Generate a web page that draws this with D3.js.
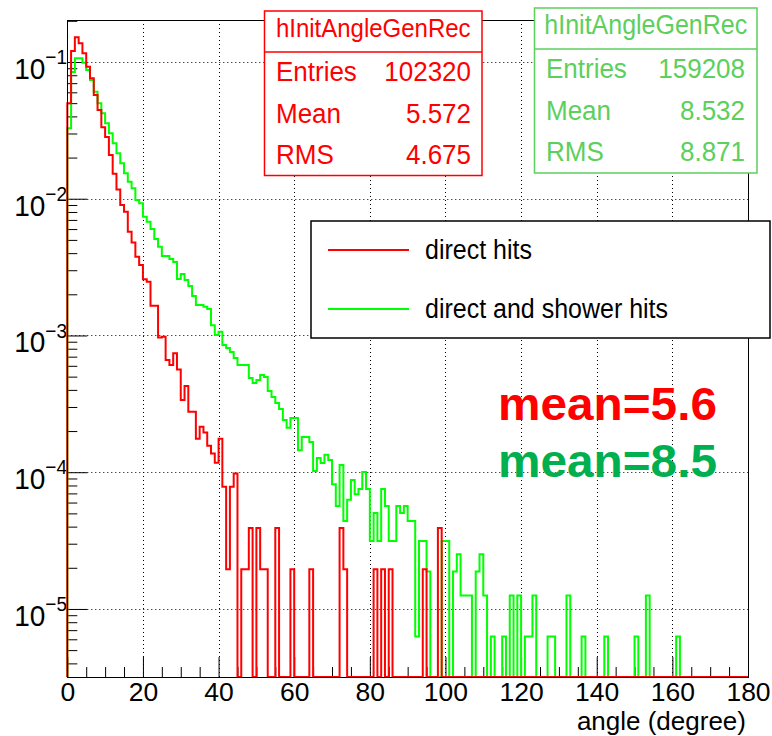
<!DOCTYPE html>
<html><head><meta charset="utf-8">
<script src="https://cdn.jsdelivr.net/npm/d3@7"></script>
<style>
body{margin:0;background:#fff;}
svg{display:block;font-family:"Liberation Sans",Arial,Helvetica,sans-serif;}
</style>
</head><body>
<svg id="c" width="772" height="736"></svg>
<script>
// ---------------- data ----------------
const xDomain = [0, 180];          // angle range, 1-degree bins
const yDomain = [3.18e-6, 0.2028]; // log axis range
const xMajorTicks = [0, 20, 40, 60, 80, 100, 120, 140, 160, 180];
const yDecadeTicks = [1e-5, 1e-4, 1e-3, 1e-2, 1e-1];
const yDecadeExp = ["\u22125", "\u22124", "\u22123", "\u22122", "\u22121"];

// direct hits (red), normalised per 1-degree bin, bins 0..179
const redValues = [
0.0499,0.1203,0.1516,0.1370,0.1158,0.0924,0.0760,0.0574,0.0446,0.0333,
0.0283,0.0209,0.0152,0.01168,0.0090,0.00804,0.00574,0.00479,0.00377,0.00328,
0.00258,0.00247,0.00165,0.00165,0.000967,0.00098,0.000662,0.000609,0.000741,0.000564,
0.000337,0.000427,0.000277,0.000277,1.76e-4,2.15e-4,1.955e-4,1.564e-4,1.369e-4,1.173e-4,
1.76e-4,7.82e-5,1.955e-5,7.82e-5,9.78e-5,0,1.955e-5,1.955e-5,3.91e-5,0,
3.91e-5,1.955e-5,1.955e-5,0,0,3.91e-5,0,0,0,1.955e-5,
0,0,0,0,1.955e-5,0,0,0,0,0,
0,0,3.91e-5,1.955e-5,0,0,0,0,0,0,
0,1.955e-5,0,1.955e-5,0,1.955e-5,0,0,0,0,
0,0,0,0,1.955e-5,0,0,0,3.91e-5,0,
0,0,0,0,0,0,0,0,0,0, 0,0,0,0,0,0,0,0,0,0,
0,0,0,0,0,0,0,0,0,0, 0,0,0,0,0,0,0,0,0,0,
0,0,0,0,0,0,0,0,0,0, 0,0,0,0,0,0,0,0,0,0,
0,0,0,0,0,0,0,0,0,0, 0,0,0,0,0,0,0,0,0,0
];

// direct and shower hits (green), bins 0..179
const greenValues = [
0.03274,0.0845,0.1064,0.1064,0.0988,0.0874,0.0738,0.0606,0.0499,0.0422,
0.0356,0.0301,0.02544,0.0215,0.01816,0.01535,0.01333,0.01192,0.0098,0.00926,
0.00739,0.0068,0.00601,0.00508,0.00446,0.00381,0.00381,0.00363,0.00345,0.00259,
0.00282,0.00255,0.0023,0.00194,0.00167,0.00167,0.00162,0.00156,0.00119,0.00101,
0.001066,0.000852,0.00081,0.000757,0.000685,0.000609,0.000609,0.000609,0.000489,0.000449,
0.000473,0.000514,0.000497,0.000393,0.000355,0.000321,0.00029,0.000241,0.000211,0.000249,
0.000249,0.000145,0.000181,0.000181,0.000166,0.000102,0.000127,0.000117,0.000134,0.000123,
8.17e-5,5.65e-5,1.131e-4,4.40e-5,6.28e-5,8.79e-5,6.91e-5,7.54e-5,1.005e-4,7.54e-5,
3.14e-5,5.03e-5,3.14e-5,7.54e-5,5.65e-5,3.14e-5,3.14e-5,5.65e-5,5.03e-5,5.65e-5,
4.40e-5,4.40e-5,6.28e-6,3.14e-5,3.14e-5,1.88e-5,0,0,0,3.14e-5,
3.14e-5,0,1.88e-5,2.51e-5,1.256e-5,1.256e-5,1.256e-5,0,1.88e-5,2.51e-5,
1.256e-5,0,6.28e-6,0,0,6.28e-6,0,1.256e-5,0,1.256e-5,
0,6.28e-6,6.28e-6,1.256e-5,0,0,0,6.28e-6,6.28e-6,0,
0,0,1.256e-5,0,0,0,6.28e-6,0,0,0,
0,0,6.28e-6,0,0,0,0,0,0,0,
6.28e-6,0,0,1.256e-5,0,0,0,0,0,0,
0,6.28e-6,0,0,0,0,0,0,0,0,
0,0,0,0,0,0,0,0,0,0
];

const statTitle = "hInitAngleGenRec";
const statLabels = ["Entries", "Mean", "RMS"];
const statRedValues = ["102320", "5.572", "4.675"];
const statGreenValues = ["159208", "8.532", "8.871"];
const legendLabels = ["direct hits", "direct and shower hits"];
const meanLabels = ["mean=5.6", "mean=8.5"];
const xTitle = "angle (degree)";

// ---------------- drawing ----------------
const RED = "#ff0000", GREEN = "#00ff00", STATGREEN = "#5ccf5c", MEANGREEN = "#00b050";
const L = 67.3, R = 748, T = 20, B = 677;
const VS = 1.07; // vertical stretch of glyphs, as in the reference
const svg = d3.select("#c");
svg.append("rect").attr("width",772).attr("height",736).attr("fill","#fff");

function addText(parent, px, py, str, size, anchor, color, weight, vs) {
  return parent.append("text")
    .attr("transform", `translate(${px},${py}) scale(1,${vs || VS})`)
    .attr("font-size", size).attr("text-anchor", anchor || "start")
    .attr("fill", color || "#000").attr("font-weight", weight || "normal")
    .text(str);
}

const x = d3.scaleLinear().domain(xDomain).range([L, R]);
const y = d3.scaleLog().domain(yDomain).range([B, T]);

// grid
const grid = svg.append("g").attr("stroke","#000").attr("stroke-width",1)
  .attr("stroke-dasharray","1,3").attr("fill","none");
xMajorTicks.filter(v => v > xDomain[0] && v < xDomain[1]).forEach(v => {
  const px = Math.round(x(v)) + 0.5;
  grid.append("line").attr("x1",px).attr("x2",px).attr("y1",T).attr("y2",B);
});
yDecadeTicks.forEach(v => {
  const py = Math.round(y(v)) + 0.5;
  grid.append("line").attr("x1",L).attr("x2",R).attr("y1",py).attr("y2",py);
});

// axes ticks (inside the frame, ROOT style)
const xMinor = d3.range(xDomain[0], xDomain[1] + 1, 5).filter(v => !xMajorTicks.includes(v));
const gxMinor = svg.append("g").attr("transform",`translate(0,${B})`)
  .call(d3.axisBottom(x).tickValues(xMinor).tickSize(-10).tickFormat(""));
const gx = svg.append("g").attr("transform",`translate(0,${B})`)
  .call(d3.axisBottom(x).tickValues(xMajorTicks).tickSize(-20).tickPadding(5).tickFormat(d3.format("d")));
[gx, gxMinor].forEach(g => { g.select(".domain").remove(); g.selectAll("line").attr("stroke","#000"); });
gx.selectAll("text").attr("font-size",26.5).attr("font-family","Liberation Sans, Arial, sans-serif")
  .attr("fill","#000");

const yMinor = [];
[1e-6,1e-5,1e-4,1e-3,1e-2,1e-1].forEach(d => [2,3,4,5,6,7,8,9].forEach(k => {
  const v = d * k; if (v >= yDomain[0] && v <= yDomain[1]) yMinor.push(v);
}));
const gyMinor = svg.append("g").attr("transform",`translate(${L},0)`)
  .call(d3.axisLeft(y).tickValues(yMinor).tickSize(-10).tickFormat(""));
const gy = svg.append("g").attr("transform",`translate(${L},0)`)
  .call(d3.axisLeft(y).tickValues(yDecadeTicks).tickSize(-20).tickFormat(""));
[gy, gyMinor].forEach(g => { g.select(".domain").remove(); g.selectAll("line").attr("stroke","#000"); });

// y labels 10^n
yDecadeTicks.forEach((v, i) => {
  const t = svg.append("text").attr("transform",`translate(67,${y(v) + 17}) scale(1,${VS})`)
    .attr("text-anchor","end").attr("font-size",28).attr("fill","#000");
  t.append("tspan").text("10");
  t.append("tspan").attr("font-size",19).attr("dy",-14).text(yDecadeExp[i]);
});

// histograms
function stepPoints(vals) {
  const pts = [[xDomain[0], 0]];
  vals.forEach((v, i) => { pts.push([xDomain[0] + i, v]); pts.push([xDomain[0] + i + 1, v]); });
  pts.push([xDomain[1], 0]);
  return pts;
}
const line = d3.line()
  .x(d => x(d[0]))
  .y(d => d[1] > yDomain[0] ? y(d[1]) : y(yDomain[0]));
svg.append("path").datum(stepPoints(greenValues)).attr("d", line)
  .attr("fill","none").attr("stroke",GREEN).attr("stroke-width",2).attr("stroke-linejoin","miter");
svg.append("path").datum(stepPoints(redValues)).attr("d", line)
  .attr("fill","none").attr("stroke",RED).attr("stroke-width",2).attr("stroke-linejoin","miter");

// frame
svg.append("rect").attr("x",Math.round(L)+0.5).attr("y",T+0.5)
  .attr("width",Math.round(R)-Math.round(L)).attr("height",B-T)
  .attr("fill","none").attr("stroke","#000").attr("stroke-width",1);

// x-axis title
addText(svg, 746, 730, xTitle, 26, "end", "#000", "normal", 1);

// stat boxes
function statBox(x0, y0, x1, y1, sep, color, values, titleBase, titleSize, rowBase, labelX, valueX) {
  const g = svg.append("g");
  g.append("rect").attr("x",x0).attr("y",y0).attr("width",x1-x0).attr("height",y1-y0)
    .attr("fill","#fff").attr("stroke",color).attr("stroke-width",1.5);
  g.append("line").attr("x1",x0).attr("x2",x1).attr("y1",sep).attr("y2",sep)
    .attr("stroke",color).attr("stroke-width",1.5);
  addText(g, (x0+x1)/2, titleBase, statTitle, titleSize, "middle", color);
  statLabels.forEach((lab, i) => {
    addText(g, labelX, rowBase[i], lab, 26, "start", color);
    addText(g, valueX, rowBase[i], values[i], 26, "end", color);
  });
}
statBox(264.5, 11, 482, 175.5, 52, RED, statRedValues, 37, 24, [81, 123, 164], 276, 471);
statBox(534.5, 8, 757, 173, 49, STATGREEN, statGreenValues, 34, 25, [78, 120, 161], 546, 745);

// legend
const lg = svg.append("g");
lg.append("rect").attr("x",311).attr("y",221).attr("width",459).attr("height",117)
  .attr("fill","#fff").attr("stroke","#000").attr("stroke-width",1.5);
[RED, GREEN].forEach((c, i) => {
  const ly = [250, 309][i];
  lg.append("line").attr("x1",328).attr("x2",409).attr("y1",ly).attr("y2",ly)
    .attr("stroke",c).attr("stroke-width",2);
  addText(lg, 425, ly + 9, legendLabels[i], 25, "start", "#000");
});

// mean annotations
[[RED, 420], [MEANGREEN, 477]].forEach(([c, base], i) => {
  svg.append("text").attr("x",498).attr("y",base).attr("font-size",47).attr("font-weight","bold")
    .attr("fill",c).attr("textLength",219).attr("lengthAdjust","spacingAndGlyphs").text(meanLabels[i]);
});
</script>
</body></html>
